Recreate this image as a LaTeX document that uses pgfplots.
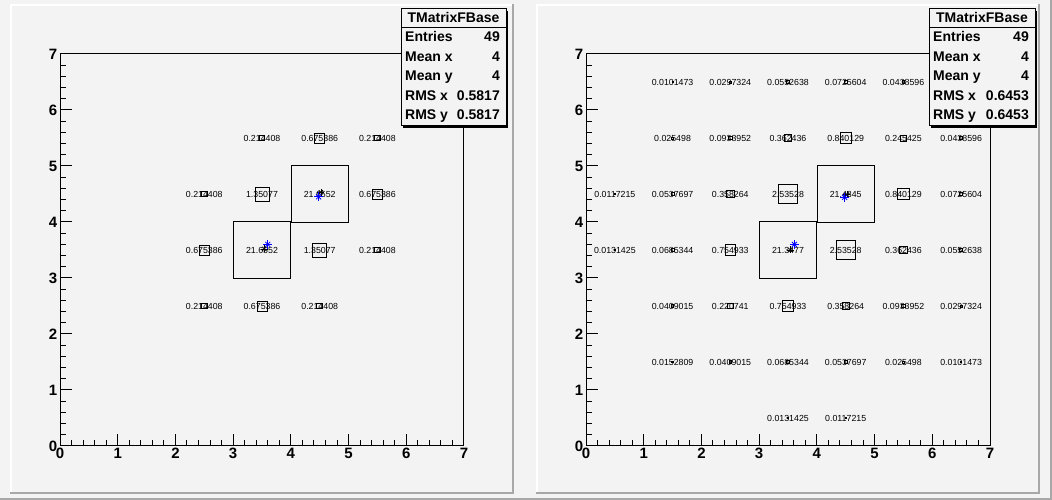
\documentclass[border=0pt]{standalone}
\usepackage{pgfplots}
\pgfplotsset{compat=1.18}
\usepackage{pgfplotstable}
\usepackage{fontspec}
\setmainfont{Liberation Sans}
\definecolor{padgray}{RGB}{243,243,243}
\definecolor{beveldark}{RGB}{168,168,168}
\newcommand\tl[1]{\mbox{\fontsize{15}{15}\selectfont\bfseries #1}}

\pgfplotstableread{
x y v
3.5 5.5 0.214408
4.5 5.5 0.675386
5.5 5.5 0.214408
2.5 4.5 0.214408
3.5 4.5 1.35077
4.5 4.5 21.6552
5.5 4.5 0.675386
2.5 3.5 0.675386
3.5 3.5 21.6552
4.5 3.5 1.35077
5.5 3.5 0.214408
2.5 2.5 0.214408
3.5 2.5 0.675386
4.5 2.5 0.214408
}\lefttab

\pgfplotstableread{
x y v
1.5 6.5 0.0101473
2.5 6.5 0.0297324
3.5 6.5 0.0552638
4.5 6.5 0.0725604
5.5 6.5 0.0438596
1.5 5.5 0.025498
2.5 5.5 0.0933952
3.5 5.5 0.362436
4.5 5.5 0.840129
5.5 5.5 0.245425
6.5 5.5 0.0438596
0.5 4.5 0.0117215
1.5 4.5 0.0537697
2.5 4.5 0.358264
3.5 4.5 2.53528
4.5 4.5 21.4845
5.5 4.5 0.840129
6.5 4.5 0.0725604
0.5 3.5 0.0131425
1.5 3.5 0.0685344
2.5 3.5 0.754933
3.5 3.5 21.3477
4.5 3.5 2.53528
5.5 3.5 0.362436
6.5 3.5 0.0552638
1.5 2.5 0.0409015
2.5 2.5 0.220741
3.5 2.5 0.754933
4.5 2.5 0.358264
5.5 2.5 0.0933952
6.5 2.5 0.0297324
1.5 1.5 0.0152809
2.5 1.5 0.0409015
3.5 1.5 0.0685344
4.5 1.5 0.0537697
5.5 1.5 0.025498
6.5 1.5 0.0101473
3.5 0.5 0.0131425
4.5 0.5 0.0117215
}\righttab

\pgfplotsset{
  rootaxis/.style={
    scale only axis, width=404pt, height=392pt, anchor=south west,
    xmin=0, xmax=7, ymin=0, ymax=7,
    xtick={0,1,2,3,4,5,6,7}, ytick={0,1,2,3,4,5,6,7}, minor tick num=4,
    xticklabels={\tl{0},\tl{1},\tl{2},\tl{3},\tl{4},\tl{5},\tl{6},\tl{7}},
    yticklabels={\tl{0},\tl{1},\tl{2},\tl{3},\tl{4},\tl{5},\tl{6},\tl{7}},
    tick align=inside, tick pos=left,
    major tick length=12pt, minor tick length=6pt,
    tick style={black, line width=1pt},
    axis line style={black, line width=1pt},
    xticklabel style={inner sep=2pt}, yticklabel style={inner sep=2.5pt},
    /pgf/number format/assume math mode=true,
  },
  cellboxes/.style={
    scatter, only marks, mark=square, line width=0.8pt,
    scatter/use mapped color={draw=black, fill=none},
    visualization depends on={28.4*sqrt(\thisrow{v}/#1) \as \ms},
    scatter/@pre marker code/.append style={/tikz/mark size=\ms},
    scatter/@post marker code/.append style={},
  },
  celltext/.style={
    only marks, mark=none, nodes near coords, point meta=explicit symbolic,
    every node near coord/.append style={anchor=center, inner sep=0pt,
      font=\fontsize{8.8}{8.8}\selectfont, black},
  },
}

\newcommand\statsbox[3]{%
  \fill[black] (#1+2,372) rectangle (#2+2,489);
  \filldraw[fill=padgray, draw=black, line width=1pt] (#1,374) rectangle (#2,491);
  \draw[line width=1pt] (#1,472) -- (#2,472);
  \node[anchor=base, inner sep=0pt, font=\fontsize{14}{14}\selectfont\bfseries] at ({(#1+#2)/2},477) {TMatrixFBase};
  \foreach \lab/\val/\yy in {Entries/49/458, Mean x/4/438, Mean y/4/419, RMS x/#3/399, RMS y/#3/380}{
    \node[anchor=base west, inner sep=0pt, font=\fontsize{14}{14}\selectfont\bfseries] at (#1+4,\yy) {\lab};
    \node[anchor=base east, inner sep=0pt, font=\fontsize{14}{14}\selectfont\bfseries] at (#2-6,\yy) {\val};
  }%
}

\begin{document}
\begin{tikzpicture}[x=1pt,y=1pt]
\fill[padgray] (0,0) rectangle (1052,500);
\fill[beveldark] (1050,0) rectangle (1052,500);
\fill[beveldark] (0,0) rectangle (1052,2);
\foreach \px in {10,536}{
  \fill[padgray] (\px,6) rectangle (\px+504,496);
  \fill[white] (\px,494) rectangle (\px+504,496);
  \fill[white] (\px,6) rectangle (\px+2,496);
  \fill[beveldark] (\px+502,6) rectangle (\px+504,496);
  \fill[beveldark] (\px,6) rectangle (\px+504,8);
}

\begin{axis}[rootaxis, at={(60pt,54pt)}]
  \addplot[celltext] table[x=x, y=y, meta=v] {\lefttab};
  \addplot[cellboxes=21.6552] table[x=x, y=y] {\lefttab};
  \addplot[only marks, mark=+, black, mark size=3.5pt, line width=0.7pt] coordinates {(3.54,3.52) (4.52,4.53)};
  \addplot[only marks, mark=x, black, mark size=3pt, line width=0.7pt] coordinates {(3.54,3.52) (4.52,4.53)};
  \addplot[only marks, mark=+, blue, mark size=4.5pt, line width=0.8pt] coordinates {(3.6,3.6) (4.48,4.45)};
  \addplot[only marks, mark=x, blue, mark size=3.5pt, line width=0.8pt] coordinates {(3.6,3.6) (4.48,4.45)};
  \draw[line width=2pt] (rel axis cs:0,1) -- (rel axis cs:0,0) -- (rel axis cs:1,0);
\end{axis}

\begin{axis}[rootaxis, at={(586pt,54pt)}]
  \addplot[celltext] table[x=x, y=y, meta=v] {\righttab};
  \addplot[cellboxes=21.4845] table[x=x, y=y] {\righttab};
  \addplot[only marks, mark=+, black, mark size=3.5pt, line width=0.7pt] coordinates {(3.54,3.5) (4.52,4.49)};
  \addplot[only marks, mark=x, black, mark size=3pt, line width=0.7pt] coordinates {(3.54,3.5) (4.52,4.49)};
  \addplot[only marks, mark=+, blue, mark size=4.5pt, line width=0.8pt] coordinates {(3.61,3.6) (4.48,4.44)};
  \addplot[only marks, mark=x, blue, mark size=3.5pt, line width=0.8pt] coordinates {(3.61,3.6) (4.48,4.44)};
  \draw[line width=2pt] (rel axis cs:0,1) -- (rel axis cs:0,0) -- (rel axis cs:1,0);
\end{axis}

\statsbox{401}{506}{0.5817}
\statsbox{929}{1035}{0.6453}
\end{tikzpicture}
\end{document}
